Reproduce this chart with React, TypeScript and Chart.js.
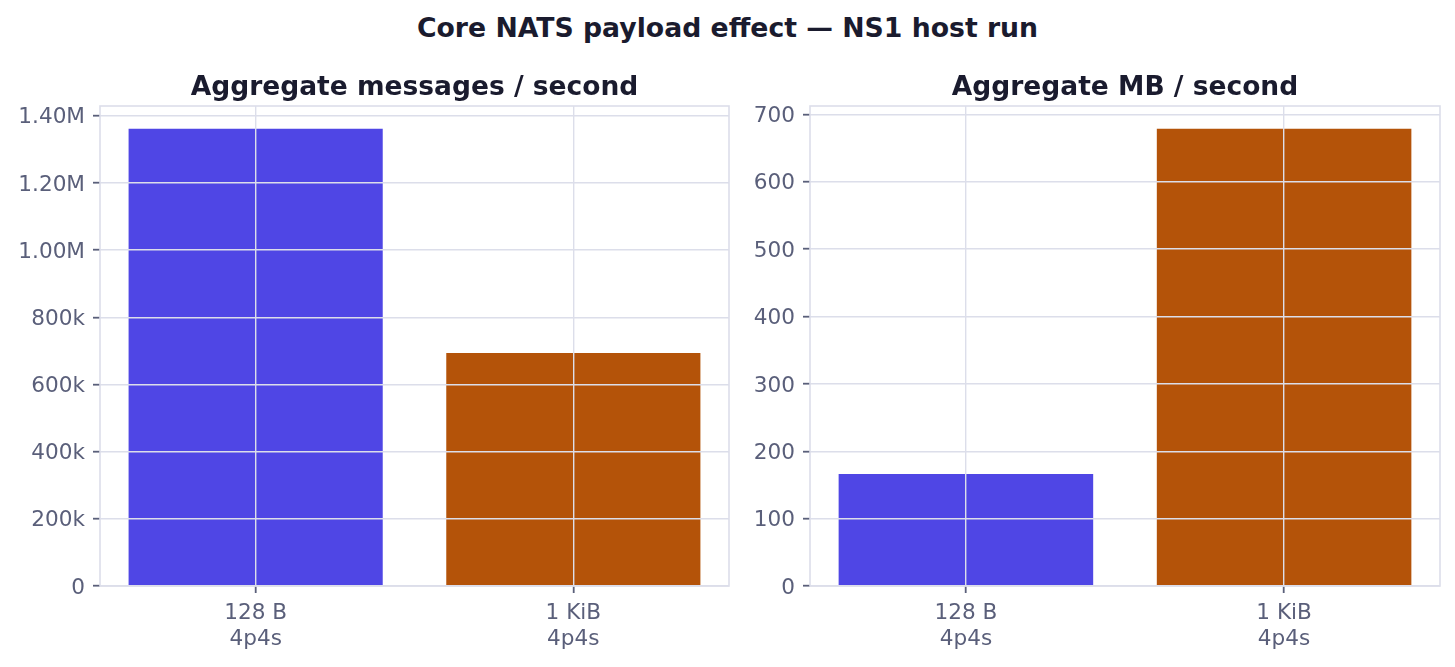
import React, { useEffect, useRef } from "react";
import { Chart, registerables } from "chart.js";

Chart.register(...registerables);

// ---- data ----
const SUPTITLE = "Core NATS payload effect — NS1 host run";
const CATEGORIES = ["128 B", "1 KiB"];
const CONFIG_LABELS = ["4p4s", "4p4s"];
const MSGS_PER_SEC = [1361300, 693600];
const MB_PER_SEC = [166.2, 678.6];
const BAR_COLORS = ["#4f46e5", "#b45309"];
const MSG_TITLE = "Aggregate messages / second";
const MB_TITLE = "Aggregate MB / second";
const MSG_TICK_STEP = 200000;
const MB_TICK_STEP = 100;

// ---- style ----
const FONT = "'DejaVu Sans', 'Liberation Sans', sans-serif";
const TEXT_DARK = "#1a1b2e";
const TICK_COLOR = "#5a5f7a";
const GRID_COLOR = "#dcdeea";

const framePlugin = {
  id: "frame",
  afterDraw(chart: any) {
    const { ctx, chartArea } = chart;
    ctx.save();
    ctx.strokeStyle = GRID_COLOR;
    ctx.lineWidth = 1.6;
    ctx.strokeRect(
      chartArea.left,
      chartArea.top,
      chartArea.right - chartArea.left,
      chartArea.bottom - chartArea.top
    );
    ctx.restore();
  },
};

function fmtMsgs(v: number) {
  if (v === 0) return "0";
  if (v >= 1e6) return (v / 1e6).toFixed(2) + "M";
  return Math.round(v / 1000) + "k";
}

function fmtMB(v: number) {
  return String(Math.round(v));
}

function makeChart(
  canvas: HTMLCanvasElement,
  values: number[],
  title: string,
  step: number,
  fmt: (v: number) => string,
  yWidth: number,
  padRight: number
) {
  const yMax = Math.max(...values) * 1.05;
  return new Chart(canvas, {
    type: "bar",
    data: {
      datasets: [
        {
          data: values.map((y, i) => ({ x: i, y })) as any,
          backgroundColor: BAR_COLORS,
          barPercentage: 0.8,
          categoryPercentage: 1,
          borderWidth: 0,
        },
      ],
    },
    options: {
      animation: false,
      responsive: false,
      devicePixelRatio: 1,
      layout: { padding: { top: 0, right: padRight, bottom: 0, left: 0 } },
      plugins: {
        legend: { display: false },
        tooltip: { enabled: false },
        title: {
          display: true,
          text: title,
          color: TEXT_DARK,
          fullSize: false,
          font: { family: FONT, size: 26.5, weight: "bold" },
          padding: { top: 71.8, bottom: 2.4 },
        },
      },
      scales: {
        x: {
          type: "linear",
          min: -0.49,
          max: 1.49,
          offset: false,
          grid: {
            offset: false,
            color: GRID_COLOR,
            lineWidth: 1.4,
            z: 1,
            drawTicks: true,
            tickLength: 7,
            tickColor: TICK_COLOR,
            tickWidth: 1.8,
          },
          border: { display: false },
          afterBuildTicks: (s: any) => {
            s.ticks = CATEGORIES.map((_, i) => ({ value: i }));
          },
          afterFit: (s: any) => {
            s.height = 81;
          },
          ticks: {
            color: TICK_COLOR,
            font: { family: FONT, size: 21.6, lineHeight: "26px" },
            padding: 7,
            maxRotation: 0,
            autoSkip: false,
            callback: (v: any) => [CATEGORIES[v], CONFIG_LABELS[v]],
          },
        } as any,
        y: {
          min: 0,
          max: yMax,
          grid: {
            color: GRID_COLOR,
            lineWidth: 1.4,
            z: 1,
            drawTicks: true,
            tickLength: 7,
            tickColor: TICK_COLOR,
            tickWidth: 1.8,
          },
          border: { display: false },
          afterBuildTicks: (s: any) => {
            const t: { value: number }[] = [];
            for (let v = 0; v <= yMax + 1e-9; v += step) t.push({ value: v });
            s.ticks = t;
          },
          afterFit: (s: any) => {
            s.width = yWidth;
          },
          ticks: {
            color: TICK_COLOR,
            font: { family: FONT, size: 21.6 },
            padding: 8,
            labelOffset: 2,
            callback: (v: any) => fmt(Number(v)),
          },
        } as any,
      },
    },
    plugins: [framePlugin],
  } as any);
}

export default function App() {
  const leftRef = useRef<HTMLCanvasElement>(null);
  const rightRef = useRef<HTMLCanvasElement>(null);

  useEffect(() => {
    document.body.style.margin = "0";
    const a = makeChart(leftRef.current!, MSGS_PER_SEC, MSG_TITLE, MSG_TICK_STEP, fmtMsgs, 100, 11);
    const b = makeChart(rightRef.current!, MB_PER_SEC, MB_TITLE, MB_TICK_STEP, fmtMB, 70, 15);
    return () => {
      a.destroy();
      b.destroy();
    };
  }, []);

  return (
    <div style={{ position: "relative", width: 1455, height: 667, background: "#ffffff", overflow: "hidden" }}>
      <div
        style={{
          position: "absolute",
          left: 0,
          top: 12,
          width: 1455,
          textAlign: "center",
          fontFamily: FONT,
          fontWeight: "bold",
          fontSize: 26.7,
          lineHeight: "31px",
          color: TEXT_DARK,
        }}
      >
        {SUPTITLE}
      </div>
      <canvas
        ref={leftRef}
        width={740}
        height={667}
        style={{ position: "absolute", left: 0, top: 0, width: 740, height: 667 }}
      />
      <canvas
        ref={rightRef}
        width={715}
        height={667}
        style={{ position: "absolute", left: 740, top: 0, width: 715, height: 667 }}
      />
    </div>
  );
}
